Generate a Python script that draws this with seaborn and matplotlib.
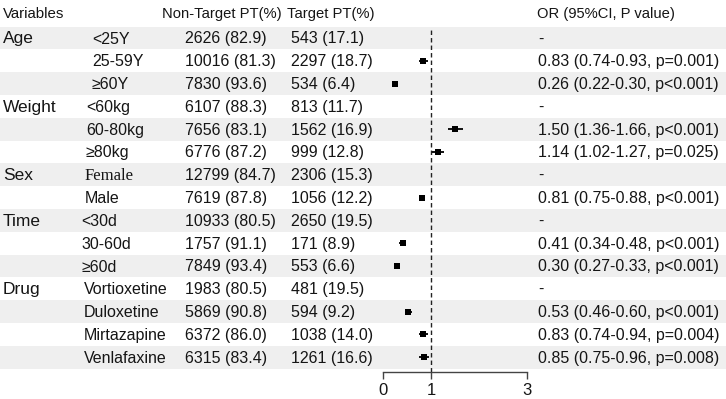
import numpy as np
import pandas as pd
import matplotlib
matplotlib.use("Agg")
import matplotlib.pyplot as plt
import seaborn as sns

groups = ["Age", "", "", "Weight", "", "", "Sex", "", "Time", "", "", "Drug", "", "", ""]
sublabels = ["<25Y", "25-59Y", "≥60Y", "<60kg", "60-80kg", "≥80kg", "Female", "Male",
             "<30d", "30-60d", "≥60d", "Vortioxetine", "Duloxetine", "Mirtazapine", "Venlafaxine"]
nontarget_n = [2626, 10016, 7830, 6107, 7656, 6776, 12799, 7619, 10933, 1757, 7849, 1983, 5869, 6372, 6315]
nontarget_pct = [82.9, 81.3, 93.6, 88.3, 83.1, 87.2, 84.7, 87.8, 80.5, 91.1, 93.4, 80.5, 90.8, 86.0, 83.4]
target_n = [543, 2297, 534, 813, 1562, 999, 2306, 1056, 2650, 171, 553, 481, 594, 1038, 1261]
target_pct = [17.1, 18.7, 6.4, 11.7, 16.9, 12.8, 15.3, 12.2, 19.5, 8.9, 6.6, 19.5, 9.2, 14.0, 16.6]
odds = [np.nan, 0.83, 0.26, np.nan, 1.50, 1.14, np.nan, 0.81, np.nan, 0.41, 0.30, np.nan, 0.53, 0.83, 0.85]
ci_lo = [np.nan, 0.74, 0.22, np.nan, 1.36, 1.02, np.nan, 0.75, np.nan, 0.34, 0.27, np.nan, 0.46, 0.74, 0.75]
ci_hi = [np.nan, 0.93, 0.30, np.nan, 1.66, 1.27, np.nan, 0.88, np.nan, 0.48, 0.33, np.nan, 0.60, 0.94, 0.96]
pvals = ["", "=0.001", "<0.001", "", "<0.001", "=0.025", "", "<0.001", "", "<0.001", "<0.001", "", "<0.001", "=0.004", "=0.008"]
headers = ["Variables", "Non-Target PT(%)", "Target PT(%)", "OR (95%CI, P value)"]
xticks = [0, 1, 3]

df = pd.DataFrame({"row": np.arange(len(sublabels)), "odds": odds, "lo": ci_lo, "hi": ci_hi})

sns.set_theme(style="white")
FONT = ["Liberation Sans", "DejaVu Sans"]
plt.rcParams["font.family"] = FONT

W, H = 726, 399
fig = plt.figure(figsize=(W / 100, H / 100), dpi=100)

# pixel-space canvas for the table
bg = fig.add_axes([0, 0, 1, 1])
bg.set_xlim(0, W)
bg.set_ylim(H, 0)
bg.axis("off")

y0, pitch = 38.0, 22.8
fs = 11.5
tc = "#151515"
sub_x = {"Age": 92, "Weight": 86, "Sex": 85, "Time": 81, "Drug": 84}

for i in range(len(sublabels)):
    yc = y0 + pitch * i
    if i % 2 == 0:
        bg.axhspan(yc - pitch / 2, yc + pitch / 2, xmin=0, xmax=1, color="#efefef", lw=0, zorder=0)

# header
hy = 14
bg.text(3, hy, headers[0], fontsize=10.8, va="center", ha="left", color=tc)
bg.text(162, hy, headers[1], fontsize=10.6, va="center", ha="left", color=tc)
bg.text(287, hy, headers[2], fontsize=10.6, va="center", ha="left", color=tc)
bg.text(537, hy, headers[3], fontsize=10.6, va="center", ha="left", color=tc)

cur = None
for i in range(len(sublabels)):
    yc = y0 + pitch * i + 1
    if groups[i]:
        cur = groups[i]
        bg.text(3, yc, groups[i], fontsize=fs + 1.0, va="center", ha="left", color=tc)
    fam = ["Liberation Serif", "DejaVu Serif"] if sublabels[i] == "Female" else FONT
    bg.text(sub_x[cur], yc, sublabels[i], fontsize=fs + (0.5 if sublabels[i] == "Female" else 0),
            va="center", ha="left", color=tc, family=fam)
    bg.text(185, yc, f"{nontarget_n[i]} ({nontarget_pct[i]:.1f})", fontsize=fs,
            va="center", ha="left", color=tc)
    bg.text(291, yc, f"{target_n[i]} ({target_pct[i]:.1f})", fontsize=fs,
            va="center", ha="left", color=tc)
    if np.isnan(odds[i]):
        s = "-"
    else:
        s = f"{odds[i]:.2f} ({ci_lo[i]:.2f}-{ci_hi[i]:.2f}, p{pvals[i]})"
    bg.text(538, yc, s, fontsize=fs, va="center", ha="left", color=tc)

# forest axes
x0_px, x3_px = 383, 527
top_px, bot_px = 27, 372
ax = fig.add_axes([x0_px / W, 1 - bot_px / H, (x3_px - x0_px) / W, (bot_px - top_px) / H])
ax.patch.set_alpha(0)
ax.set_xlim(0, 3)
ax.set_ylim((bot_px - y0) / pitch, (top_px - y0) / pitch)

ax.axvline(1, color="#222222", lw=1.0, ls=(0, (3.2, 2.2)), zorder=1)
sub = df.dropna()
ax.hlines(sub["row"], sub["lo"], sub["hi"], color="black", lw=1.3, zorder=2)
sns.scatterplot(data=sub, x="odds", y="row", marker="s", s=18, color="black",
                edgecolor="black", linewidth=0, ax=ax, zorder=3, legend=False)

for sp in ["top", "right", "left"]:
    ax.spines[sp].set_visible(False)
ax.spines["bottom"].set_bounds(0, 3)
ax.spines["bottom"].set_color("#444444")
ax.spines["bottom"].set_linewidth(1.0)
ax.set_xticks(xticks)
ax.set_xticklabels([str(t) for t in xticks])
ax.set_yticks([])
ax.tick_params(axis="x", direction="out", length=5, width=1.0, color="#444444",
               labelsize=12, pad=3, bottom=True, labelcolor=tc)
ax.set_xlabel("")
ax.set_ylabel("")

fig.savefig("out.png", dpi=100)
